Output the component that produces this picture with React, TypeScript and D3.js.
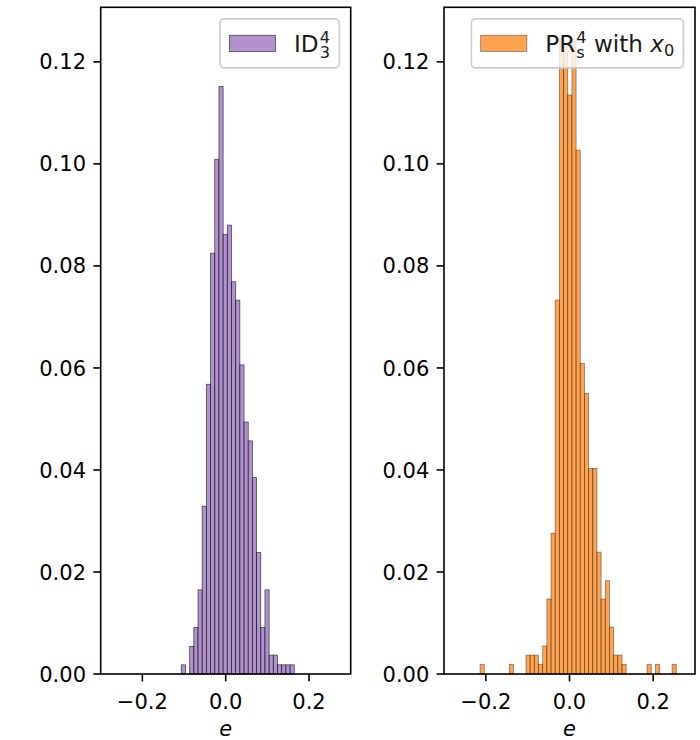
import * as d3 from 'd3';

// histogram heights (fraction of samples per bin)
const idValues = [
  0.0018, 0, 0.0054, 0.0091, 0.0165, 0.0329, 0.0568, 0.0825, 0.1009, 0.1152,
  0.0862, 0.088, 0.0769, 0.0733, 0.0606, 0.0494, 0.0457, 0.0385, 0.0238, 0.0091,
  0.0165, 0.0037, 0.0037, 0.0018, 0.0018, 0.0018, 0.0018,
];
const idBinStart = -0.1066;
const idBinWidth = 0.01004;

const prValues = [
  0.0019, 0, 0, 0, 0, 0, 0, 0.0019, 0, 0,
  0, 0.0037, 0.0037, 0.0037, 0.0019, 0.0055, 0.0147, 0.0276, 0.0733, 0.1245,
  0.123, 0.1135, 0.1245, 0.1027, 0.0609, 0.055, 0.0403, 0.0403, 0.0239, 0.0147,
  0.0183, 0.0092, 0.0037, 0.0037, 0.0019, 0, 0, 0, 0, 0,
  0.0019, 0, 0.0019, 0, 0, 0, 0.0019,
];
const prBinStart = -0.2138;
const prBinWidth = 0.00998;

const yTicks = [0, 0.02, 0.04, 0.06, 0.08, 0.1, 0.12];
const xTicks = [-0.2, 0, 0.2];
const xDomain: [number, number] = [-0.3, 0.3];
const yDomain: [number, number] = [0, 0.1307];

const FONT = 'DejaVu Sans, sans-serif';
const FS = 21; // tick labels
const LFS = 23.1; // legend
const TICK = 7.35;
const LW = 1.6;

function measure(text: string, size: number, italic = false) {
  const c = document.createElement('canvas').getContext('2d');
  if (!c) return text.length * size * 0.6;
  c.font = `${italic ? 'italic ' : ''}${size}px DejaVu Sans`;
  return c.measureText(text).width;
}

type PanelProps = {
  left: number;
  right: number;
  values: number[];
  start: number;
  width: number;
  color: string;
  edgeOpacity: number;
  legend: 'id' | 'pr';
};

const TOP = 7.3;
const BOTTOM = 674;

function Panel({ left, right, values, start, width, color, edgeOpacity, legend }: PanelProps) {
  const x = d3.scaleLinear().domain(xDomain).range([left, right]);
  const y = d3.scaleLinear().domain(yDomain).range([BOTTOM, TOP]);

  const bars = values
    .map((v, i) => ({ v, x0: start + i * width, x1: start + (i + 1) * width }))
    .filter((d) => d.v > 0);

  // legend layout (matplotlib-like paddings)
  const pad = 0.4 * LFS;
  const handleW = 2 * LFS;
  const handleH = 0.7 * LFS;
  const textPad = 0.8 * LFS;
  const sFS = LFS * 0.7;
  const boxTop = TOP + 0.5 * LFS;
  const boxH = 49;
  const cy = boxTop + boxH / 2;
  const base = cy + 0.36 * LFS;
  const up = 8.5;
  const down = 6.5;

  let textW = 0;
  let label: JSX.Element;
  if (legend === 'id') {
    const w2 = measure('4', sFS);
    textW = measure('ID', LFS) + w2 + 1;
    label = (
      <text y={base} fontSize={LFS}>
        ID
        <tspan dx={1} dy={-up} fontSize={sFS}>4</tspan>
        <tspan dx={-w2} dy={up + down} fontSize={sFS}>3</tspan>
      </text>
    );
  } else {
    const w2 = measure('4', sFS);
    const ws = measure('s', sFS);
    textW =
      measure('PR', LFS) + 1 + w2 + measure(' with ', LFS) + measure('x', LFS, true) + measure('0', sFS);
    label = (
      <text y={base} fontSize={LFS} xmlSpace="preserve">
        PR
        <tspan dx={1} dy={-up} fontSize={sFS}>4</tspan>
        <tspan dx={-w2} dy={up + down} fontSize={sFS}>s</tspan>
        <tspan dx={w2 - ws} dy={-down}>{' with '}</tspan>
        <tspan fontStyle="italic">x</tspan>
        <tspan dy={4} fontSize={sFS}>0</tspan>
      </text>
    );
  }
  const boxW = pad * 2 + handleW + textPad + textW;
  const boxRight = right - 0.5 * LFS;
  const boxLeft = boxRight - boxW;

  return (
    <g>
      {bars.map((d, i) => (
        <rect
          key={i}
          x={x(d.x0)}
          y={y(d.v)}
          width={x(d.x1) - x(d.x0)}
          height={y(0) - y(d.v)}
          fill={color}
          fillOpacity={0.72}
          stroke="#000"
          strokeOpacity={edgeOpacity}
          strokeWidth={0.8}
        />
      ))}

      {/* y axis */}
      {yTicks.map((t) => (
        <g key={t}>
          <line x1={left - TICK} x2={left} y1={y(t)} y2={y(t)} stroke="#000" strokeWidth={LW} />
          <text x={left - TICK * 2} y={y(t)} dy="0.36em" textAnchor="end" fontSize={FS}>
            {t.toFixed(2)}
          </text>
        </g>
      ))}

      {/* x axis */}
      {xTicks.map((t) => (
        <g key={t}>
          <line x1={x(t)} x2={x(t)} y1={BOTTOM} y2={BOTTOM + TICK} stroke="#000" strokeWidth={LW} />
          <text x={x(t)} y={709} textAnchor="middle" fontSize={FS}>
            {t < 0 ? `\u2212${Math.abs(t).toFixed(1)}` : t.toFixed(1)}
          </text>
        </g>
      ))}
      <text x={(left + right) / 2} y={736} textAnchor="middle" fontSize={FS} fontStyle="italic">
        e
      </text>

      <rect
        x={left}
        y={TOP}
        width={right - left}
        height={BOTTOM - TOP}
        fill="none"
        stroke="#000"
        strokeWidth={LW}
      />

      {/* legend */}
      <rect
        x={boxLeft}
        y={boxTop}
        width={boxW}
        height={boxH}
        rx={4}
        fill="#fff"
        fillOpacity={0.8}
        stroke="#cccccc"
        strokeWidth={1.6}
      />
      <rect
        x={boxLeft + pad}
        y={cy - handleH / 2}
        width={handleW}
        height={handleH}
        fill={color}
        fillOpacity={0.72}
        stroke="#000"
        strokeOpacity={edgeOpacity}
        strokeWidth={0.8}
      />
      <g transform={`translate(${boxLeft + pad + handleW + textPad},0)`} fill="#1a1a1a">
        {label}
      </g>
    </g>
  );
}

export default function App() {
  return (
    <svg
      width={700}
      height={740}
      style={{ position: 'absolute', left: 0, top: 0, background: '#fff' }}
      fontFamily={FONT}
    >
      <Panel
        left={100.7}
        right={350.7}
        values={idValues}
        start={idBinStart}
        width={idBinWidth}
        color="#9467bd"
        edgeOpacity={0.65}
        legend="id"
      />
      <Panel
        left={444}
        right={695}
        values={prValues}
        start={prBinStart}
        width={prBinWidth}
        color="#ff7f0e"
        edgeOpacity={0.45}
        legend="pr"
      />
    </svg>
  );
}
